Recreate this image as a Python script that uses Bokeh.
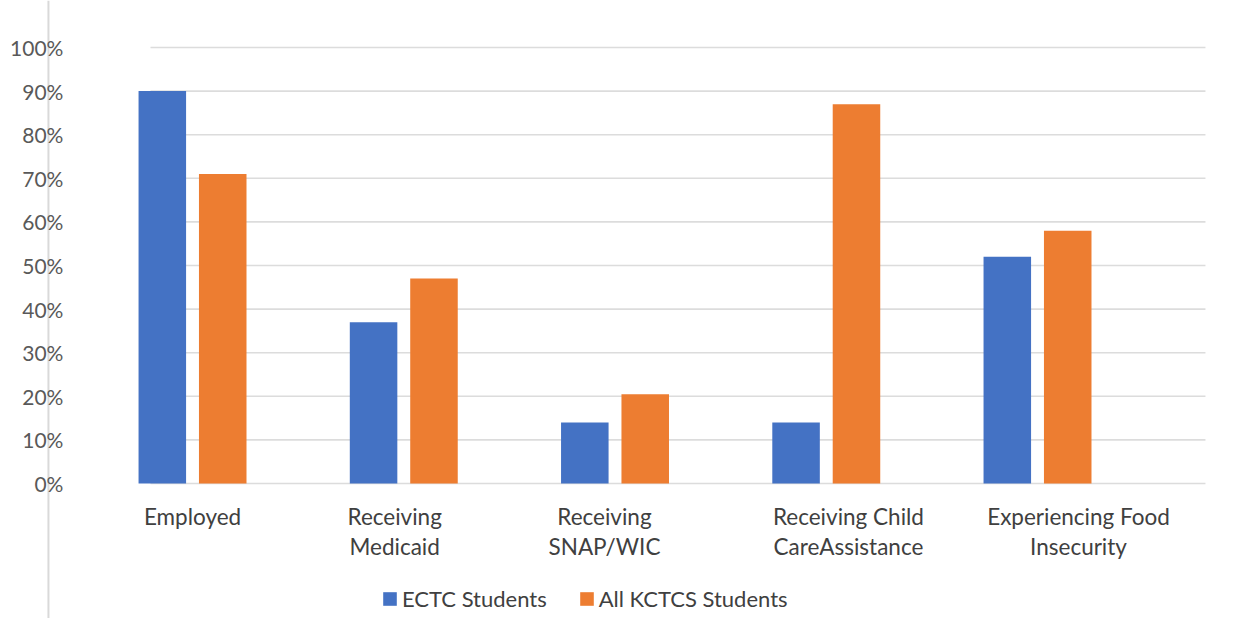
from bokeh.plotting import figure
from bokeh.models import Range1d, Legend, LegendItem, ColumnDataSource
from bokeh.core.properties import value
from bokeh.embed import file_html
from bokeh.resources import INLINE
import numpy as np

categories = ["Employed", "Receiving\nMedicaid", "Receiving\nSNAP/WIC",
              "Receiving Child\nCareAssistance", "Experiencing Food\nInsecurity"]
ectc = [90, 37, 14, 14, 52]
kctcs = [71, 47, 20.5, 87, 58]
series_names = ["ECTC Students", "All KCTCS Students"]
y_ticks = [0, 10, 20, 30, 40, 50, 60, 70, 80, 90, 100]
y_tick_labels = [f"{t}%" for t in y_ticks]

BLUE = "#4472C4"
ORANGE = "#ED7D31"
FONT = "Lato"

W, H = 1217, 618
Y0, Y1 = -30.96, 110.78
p = figure(width=W, height=H, output_backend="svg", toolbar_location=None,
           x_range=Range1d(-0.409, 5.352), y_range=Range1d(Y0, Y1),
           min_border=0, min_border_left=0, min_border_right=0,
           min_border_top=0, min_border_bottom=0)
p.axis.visible = False
p.grid.visible = False
p.outline_line_color = None
p.background_fill_color = "white"

# vertical page border line
p.segment(x0=[-0.182], x1=[-0.182], y0=[Y0], y1=[Y1],
          line_color="#d9d9d9", line_width=2)

# gridlines
p.segment(x0=[0.301] * len(y_ticks), x1=[5.295] * len(y_ticks),
          y0=y_ticks, y1=y_ticks, line_color="#dcdcdc", line_width=1.6)

idx = np.arange(len(categories)) + 0.5
off = 0.143
bw = 0.225
src = ColumnDataSource(dict(xb=idx - off, xo=idx + off, ectc=ectc, kctcs=kctcs))
r1 = p.vbar(x="xb", top="ectc", bottom=0, width=bw, source=src,
            fill_color=BLUE, line_color=None)
r2 = p.vbar(x="xo", top="kctcs", bottom=0, width=bw, source=src,
            fill_color=ORANGE, line_color=None)

# y tick labels
p.text(x=[-0.111] * len(y_ticks), y=y_ticks, text=y_tick_labels,
       text_align="right", text_baseline="middle",
       text_font=value(FONT), text_font_size="21px", text_color="#595959")

# category labels (split into lines); small per-label horizontal shifts as in the source
label_shift = np.array([0.0, -0.043, -0.05, 0.105, 0.194])
lx = idx + label_shift
line1 = [c.split("\n")[0] for c in categories]
line2 = [c.split("\n")[1] if "\n" in c else "" for c in categories]
p.text(x=lx, y=[-7.57] * len(categories), text=line1,
       text_align="center", text_baseline="middle",
       text_font=value(FONT), text_font_size="22.5px", text_color="#404040")
p.text(x=lx, y=[-14.45] * len(categories), text=line2,
       text_align="center", text_baseline="middle",
       text_font=value(FONT), text_font_size="22.5px", text_color="#404040")

legend = Legend(items=[LegendItem(label=series_names[0], renderers=[r1]),
                       LegendItem(label=series_names[1], renderers=[r2])],
                orientation="horizontal", location=(381, 6),
                glyph_width=17, glyph_height=17, label_standoff=4, spacing=31,
                padding=0, margin=0, border_line_alpha=0, background_fill_alpha=0,
                label_text_font=FONT, label_text_font_size="22px",
                label_text_color="#404040", label_height=22)
p.add_layout(legend)

open("out.html", "w").write(file_html(p, INLINE))
